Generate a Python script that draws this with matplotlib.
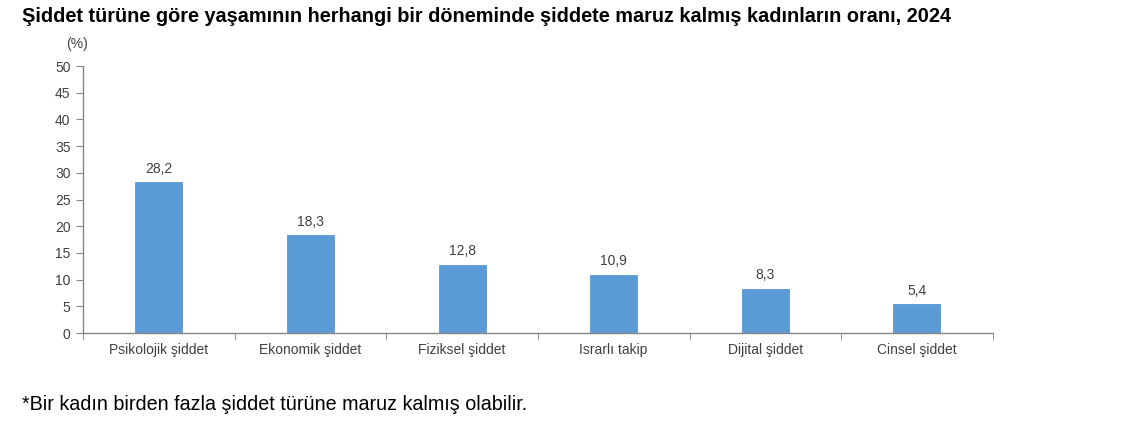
import matplotlib
matplotlib.use("Agg")
import matplotlib.pyplot as plt
import numpy as np

plt.rcParams["font.family"] = ["Liberation Sans", "DejaVu Sans"]

categories = ["Psikolojik şiddet", "Ekonomik şiddet", "Fiziksel şiddet",
              "Israrlı takip", "Dijital şiddet", "Cinsel şiddet"]
values = [28.2, 18.3, 12.8, 10.9, 8.3, 5.4]
labels = ["28,2", "18,3", "12,8", "10,9", "8,3", "5,4"]

title = "Şiddet türüne göre yaşamının herhangi bir döneminde şiddete maruz kalmış kadınların oranı, 2024"
note = "*Bir kadın birden fazla şiddet türüne maruz kalmış olabilir."

bar_color = "#5b9bd5"
axis_color = "#868686"
text_color = "#404040"

fig = plt.figure(figsize=(11.32, 4.26), dpi=100)
ax = fig.add_axes([0.0733, 0.2183, 0.8037, 0.6267])

x = np.arange(len(categories))
ax.bar(x, values, width=0.31, color=bar_color, edgecolor="#4a8ccb", linewidth=0.5)
for xi, v, lab in zip(x, values, labels):
    ax.text(xi, v + 1.2, lab, ha="center", va="bottom", fontsize=10, color=text_color)

ax.set_xlim(-0.5, len(categories) - 0.5)
ax.set_ylim(0, 50)
ax.set_yticks(range(0, 51, 5))
ax.set_xticks(x)
ax.set_xticklabels(categories, fontsize=10, color=text_color)
ax.set_xticks(np.arange(-0.5, len(categories), 1), minor=True)
ax.tick_params(axis="x", which="major", length=0, pad=7)
ax.tick_params(axis="x", which="minor", length=5, color=axis_color, direction="out")
ax.tick_params(axis="y", length=5, color=axis_color, labelsize=10, labelcolor=text_color, pad=4)

for s in ["top", "right"]:
    ax.spines[s].set_visible(False)
for s in ["left", "bottom"]:
    ax.spines[s].set_color(axis_color)
    ax.spines[s].set_linewidth(1.0)

fig.text(77 / 1132, 1 - 44 / 426, "(%)", ha="center", va="center", fontsize=10, color=text_color)
fig.text(22 / 1132, 1 - 17 / 426, title, ha="left", va="center", fontsize=14.3,
         fontweight="bold", color="black")
fig.text(22 / 1132, 1 - 405 / 426, note, ha="left", va="center", fontsize=14.2, color="black")

fig.savefig("out.png", dpi=100)
